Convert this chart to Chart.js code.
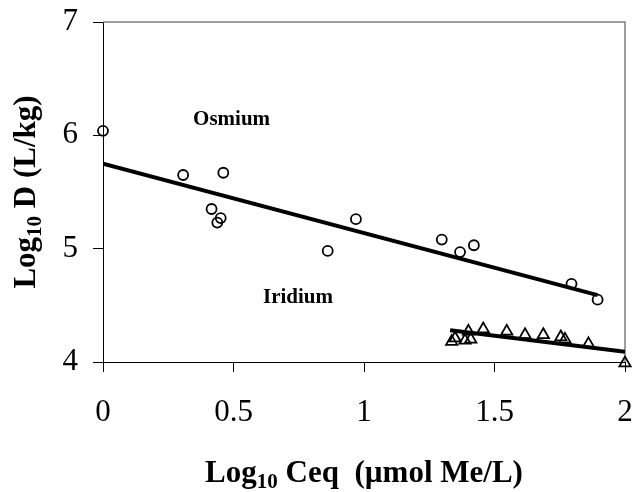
<!DOCTYPE html>
<html>
<head>
<meta charset="utf-8">
<script src="https://cdn.jsdelivr.net/npm/chart.js@4.4.1/dist/chart.umd.min.js"></script>
<style>
  html, body { margin: 0; padding: 0; background: #fff; }
  #wrap { width: 637px; height: 492px; }
</style>
</head>
<body>
<div id="wrap"><canvas id="myChart" width="637" height="492"></canvas></div>
<script>
// Osmium measurements (log10 Ceq, log10 D)
const osmiumX = [0.000, 0.307, 0.461, 0.416, 0.451, 0.438, 0.861, 0.969, 1.298, 1.368, 1.421, 1.795, 1.895];
const osmiumY = [6.04, 5.65, 5.67, 5.35, 5.27, 5.23, 4.98, 5.26, 5.08, 4.97, 5.03, 4.69, 4.55];

// Iridium measurements
const iridiumX = [1.336, 1.349, 1.387, 1.400, 1.409, 1.457, 1.547, 1.617, 1.687, 1.754, 1.770, 1.860, 2.000];
const iridiumY = [4.18, 4.21, 4.19, 4.27, 4.20, 4.29, 4.27, 4.24, 4.24, 4.22, 4.20, 4.16, 3.99];

// linear fits, start and end points
const osmiumFitX = [0, 1.895];
const osmiumFitY = [5.75, 4.59];
const iridiumFitX = [1.33, 2.0];
const iridiumFitY = [4.28, 4.09];

const seriesNames = ["Osmium", "Iridium"];
const xTicks = [0, 0.5, 1, 1.5, 2];
const yTicks = [4, 5, 6, 7];

const toPoints = (xs, ys) => xs.map((v, i) => ({ x: v, y: ys[i] }));

const SERIF = '"Liberation Serif", "Times New Roman", serif';

// title with a subscript part: parts = [before, sub, after]
let drawSubText = (ctx, parts, cx, cy) => {
  const mainFont = "bold 31px " + SERIF;
  const subFont = "bold 21px " + SERIF;
  ctx.font = mainFont;
  const w0 = ctx.measureText(parts[0]).width;
  const w2 = ctx.measureText(parts[2]).width;
  ctx.font = subFont;
  const w1 = ctx.measureText(parts[1]).width;
  let x = cx - (w0 + w1 + w2) / 2;
  ctx.textAlign = "left";
  ctx.textBaseline = "alphabetic";
  ctx.font = mainFont;
  ctx.fillText(parts[0], x, cy);
  x += w0;
  ctx.font = subFont;
  ctx.fillText(parts[1], x, cy + 6);
  x += w1;
  ctx.font = mainFont;
  ctx.fillText(parts[2], x, cy);
};

const textPlugin = {
  id: "textPlugin",
  beforeDatasetsDraw(chart) {
    // grey plot area frame (top and right)
    const a = chart.chartArea;
    const ctx = chart.ctx;
    ctx.save();
    ctx.strokeStyle = "#808080";
    ctx.lineWidth = 1.5;
    ctx.beginPath();
    ctx.moveTo(a.left, a.top);
    ctx.lineTo(a.right, a.top);
    ctx.lineTo(a.right, a.bottom);
    ctx.stroke();
    ctx.restore();
  },
  afterDraw(chart) {
    const ctx = chart.ctx;
    const xs = chart.scales.x;
    const ys = chart.scales.y;
    const a = chart.chartArea;
    ctx.save();
    ctx.fillStyle = "#000";

    // series names
    ctx.font = "bold 21px " + SERIF;
    ctx.textAlign = "left";
    ctx.textBaseline = "alphabetic";
    ctx.fillText(seriesNames[0], xs.getPixelForValue(0.345), ys.getPixelForValue(6.09));
    ctx.fillText(seriesNames[1], xs.getPixelForValue(0.613), ys.getPixelForValue(4.52));

    // x axis title
    drawSubText(ctx, ["Log", "10", " Ceq  (\u00b5mol Me/L)"], (a.left + a.right) / 2, 482);

    // y axis title
    ctx.translate(35, (a.top + a.bottom) / 2);
    ctx.rotate(-Math.PI / 2);
    drawSubText(ctx, ["Log", "10", " D (L/kg)"], 0, 0);
    ctx.restore();
  },
};

const ctx = document.getElementById("myChart");

const config = {
  type: "scatter",
  data: {
    datasets: [
      {
        label: seriesNames[0] + " fit",
        data: toPoints(osmiumFitX, osmiumFitY),
        showLine: true,
        borderColor: "#000",
        borderWidth: 4,
        pointRadius: 0,
        order: 0,
      },
      {
        label: seriesNames[1] + " fit",
        data: toPoints(iridiumFitX, iridiumFitY),
        showLine: true,
        borderColor: "#000",
        borderWidth: 4,
        pointRadius: 0,
        order: 0,
      },
      {
        label: seriesNames[0],
        data: toPoints(osmiumX, osmiumY),
        pointStyle: "circle",
        pointRadius: 5,
        pointBorderWidth: 1.8,
        pointBorderColor: "#000",
        pointBackgroundColor: "rgba(255,255,255,0)",
        clip: false,
        order: 1,
      },
      {
        label: seriesNames[1],
        data: toPoints(iridiumX, iridiumY),
        pointStyle: "triangle",
        pointRadius: 6.5,
        pointBorderWidth: 1.8,
        pointBorderColor: "#000",
        pointBackgroundColor: "rgba(255,255,255,0)",
        clip: false,
        order: 1,
      },
    ],
  },
  options: {
    responsive: false,
    animation: false,
    devicePixelRatio: 1,
    layout: { padding: { top: 22, right: 12, left: 0, bottom: 0 } },
    plugins: { legend: { display: false }, tooltip: { enabled: false } },
    scales: {
      x: {
        type: "linear",
        min: 0,
        max: 2,
        afterBuildTicks: (axis) => { axis.ticks = xTicks.map((v) => ({ value: v })); },
        afterFit: (axis) => {
          axis.height = 130;
          axis.paddingLeft = 0;
          axis.paddingRight = 0;
        },
        border: { display: true, color: "#000", width: 1 },
        grid: { drawOnChartArea: false, drawTicks: true, tickLength: 10, color: "#000" },
        ticks: {
          color: "#000",
          padding: 22,
          maxRotation: 0,
          font: { family: SERIF, size: 31 },
          callback: (v) => String(v),
        },
      },
      y: {
        type: "linear",
        min: 4,
        max: 7,
        afterBuildTicks: (axis) => { axis.ticks = yTicks.map((v) => ({ value: v })); },
        afterFit: (axis) => {
          axis.width = 103;
          axis.paddingTop = 0;
          axis.paddingBottom = 0;
        },
        border: { display: true, color: "#000", width: 1 },
        grid: { drawOnChartArea: false, drawTicks: true, tickLength: 10, color: "#000" },
        ticks: {
          color: "#000",
          padding: 15,
          font: { family: SERIF, size: 31 },
          callback: (v) => String(v),
        },
      },
    },
  },
  plugins: [textPlugin],
};

const chart = new Chart(ctx, config);
</script>
</body>
</html>
